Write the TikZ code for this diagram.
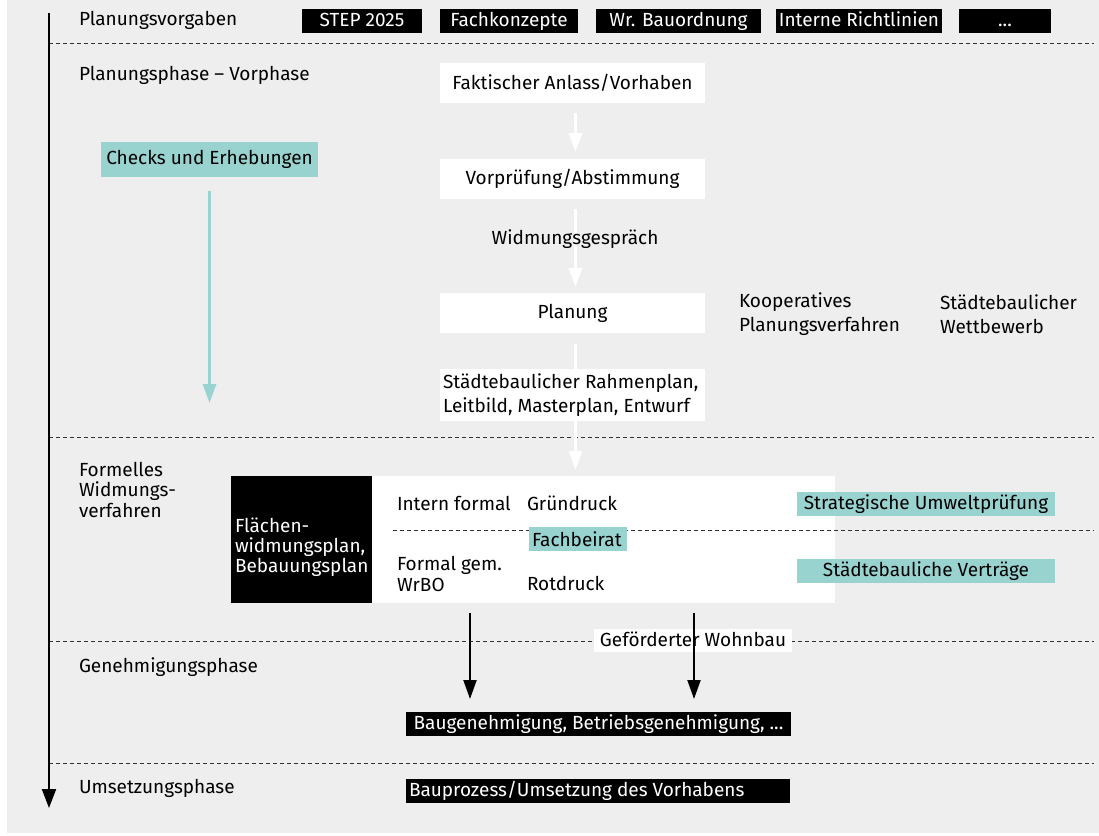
\documentclass[tikz,border=0pt]{standalone}
\usepackage{fontspec}
\setmainfont{Fira Sans}
\usetikzlibrary{arrows.meta}
\definecolor{bgc}{RGB}{237,238,237}
\definecolor{tealc}{RGB}{153,211,208}
\definecolor{dashc}{RGB}{50,50,50}
\begin{document}
\begin{tikzpicture}[x=1pt,y=-1pt,
  every node/.style={font=\fontsize{19}{20.5}\selectfont, inner sep=0pt, outer sep=0pt},
  blk/.style={fill=black,text=white,minimum height=24pt,text height=13.5pt,text depth=2pt},
  wht/.style={fill=white,minimum height=40pt,minimum width=265pt},
  tl/.style={fill=tealc,minimum height=24pt,text height=13.5pt,text depth=2pt},
  lbl/.style={anchor=west,align=left},
  sep/.style={draw=dashc,line width=1pt,dash pattern=on 4pt off 3pt},
  warr/.style={draw=white,line width=3pt,-{Triangle[width=13pt,length=19pt]}},
  tarr/.style={draw=tealc,line width=3pt,-{Triangle[width=13pt,length=19pt]}},
  barr/.style={draw=black,line width=2pt,-{Triangle[width=13pt,length=19pt]}},
  larr/.style={draw=black,line width=2pt,-{Triangle[width=14pt,length=19pt]}}
]
\useasboundingbox (0,0) rectangle (1099,835);
\fill[bgc] (7,0) rectangle (1099,833);

% separators
\foreach \yy/\nm in {43.5/s1,437/s2,641/s3,763/s4}{
  \coordinate (\nm a) at (49,\yy);
  \coordinate (\nm b) at (1094,\yy);
  \draw[sep] (\nm a) -- (\nm b);
}
\coordinate (s5a) at (393,530);
\coordinate (s5b) at (1094,530);

% timeline
\coordinate (tstart) at (49,13);
\coordinate (tend) at (49,808);
\draw[larr] (tstart) -- (tend);

% phase labels
\node[lbl] (l1) at (79,20) {Planungsvorgaben};
\node[lbl] (l2) at (79,75) {Planungsphase – Vorphase};
\node[lbl] (l3) at (79,489.5) {Formelles\\Widmungs-\\verfahren};
\node[lbl] (l4) at (79,667) {Genehmigungsphase};
\node[lbl] (l5) at (79,788) {Umsetzungsphase};

% top row
\node[blk,minimum width=120pt] (step) at (362,21) {STEP 2025};
\node[blk,minimum width=138pt] (fach) at (509,21) {Fachkonzepte};
\node[blk,minimum width=165pt] (wrbo) at (678.5,21) {Wr. Bauordnung};
\node[blk,minimum width=166pt] (intr) at (859,21) {Interne Richtlinien};
\node[blk,minimum width=92pt] (dots) at (1005,21) {...};

% planning chain
\node[wht] (fakt) at (572.5,83) {Faktischer Anlass/Vorhaben};
\node[wht] (vorp) at (572.5,179) {Vorprüfung/Abstimmung};
\node[wht] (plan) at (572.5,313) {Planung};

% formal white area
\node[fill=white,minimum width=463pt,minimum height=127pt] (fwhite) at (603.5,539.5) {};
\node[fill=black,minimum width=141pt,minimum height=127pt] (fblack) at (301.5,539.5) {};
\node[lbl,text=white,font=\fontsize{19}{20}\selectfont] (fbt) at (235,547) {Flächen-\\widmungsplan,\\Bebauungsplan};
\draw[sep] (s5a) -- (s5b);

\draw[warr,shorten <=10pt,shorten >=7pt] ([xshift=3pt]fakt.south) -- ([xshift=3pt]vorp.north);
\draw[warr,shorten <=10pt,shorten >=6pt] ([xshift=3pt]vorp.south) -- ([xshift=3pt]plan.north);
\draw[warr,shorten <=11pt,shorten >=6pt] ([xshift=3pt]plan.south) -- ([xshift=3pt]plan.south |- fwhite.north);

\node[fill=white,minimum width=265pt,minimum height=52pt] (rahm) at (572.5,395) {};
\node[lbl,font=\fontsize{19}{24}\selectfont] (rahmt) at (443,395) {Städtebaulicher Rahmenplan,\\Leitbild, Masterplan, Entwurf};
\node (widm) at (575,239) {Widmungsgespräch};

\node[lbl,font=\fontsize{19}{24}\selectfont] (koop) at (739,314) {Kooperatives\\Planungsverfahren};
\node[lbl,font=\fontsize{19}{24}\selectfont] (wett) at (940,314) {Städtebaulicher\\Wettbewerb};

% checks
\node[fill=tealc,minimum width=217pt,minimum height=35pt] (chk) at (209.5,159.5) {Checks und Erhebungen};
\coordinate (chkend) at (209.5,403);
\draw[tarr,shorten <=14pt] (chk.south) -- (chk.south |- chkend);

% formal contents
\node[lbl] (intf) at (397,503) {Intern formal};
\node[lbl] (grun) at (527,503) {Gründruck};
\node[lbl,font=\fontsize{19}{21}\selectfont] (form) at (397,573.5) {Formal gem.\\WrBO};
\node[lbl] (rotd) at (527,583) {Rotdruck};
\node[tl,minimum width=98pt] (fbei) at (578,539) {};
\node[lbl] (fbeit) at (532,539) {Fachbeirat};
\node[tl,minimum width=258pt] (sup) at (926,504) {Strategische Umweltprüfung};
\node[tl,minimum width=258pt] (svt) at (926,571) {Städtebauliche Verträge};

% approval
\node[fill=white,minimum width=198pt,minimum height=23pt,text height=13.5pt,text depth=2pt] (gef) at (693,640.5) {Geförderter Wohnbau};
\node[blk,minimum width=385pt] (bau) at (598.5,724) {Baugenehmigung, Betriebsgenehmigung, ...};
\node[blk,minimum width=384pt] (proz) at (598,791) {};
\node[lbl,text=white] (prozt) at (409,791) {Bauprozess/Umsetzung des Vorhabens};
\coordinate (c1) at (470,0);
\coordinate (c2) at (694,0);
\draw[barr,shorten <=10pt,shorten >=13pt] (fwhite.south -| c1) -- (bau.north -| c1);
\draw[barr,shorten <=10pt,shorten >=13pt] (fwhite.south -| c2) -- (bau.north -| c2);
\end{tikzpicture}
\end{document}
